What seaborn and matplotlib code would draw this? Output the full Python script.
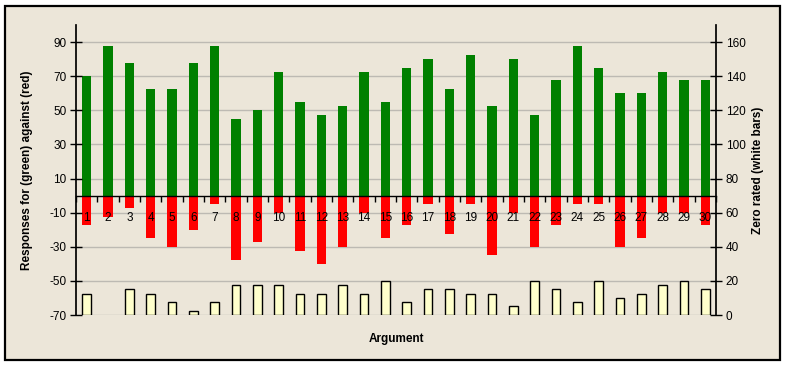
import numpy as np
import pandas as pd
import matplotlib
matplotlib.use("Agg")
import matplotlib.pyplot as plt
import seaborn as sns

# ---- data ----
arguments = [str(i) for i in range(1, 31)]
responses_for = [70, 87.5, 77.5, 62.5, 62.5, 77.5, 87.5, 45, 50, 72.5,
                 55, 47.5, 52.5, 72.5, 55, 75, 80, 62.5, 82.5, 52.5,
                 80, 47.5, 67.5, 87.5, 75, 60, 60, 72.5, 67.5, 67.5]
responses_against = [-17.5, -12.5, -7.5, -25, -30, -20, -5, -37.5, -27.5, -10,
                     -32.5, -40, -30, -10, -25, -17.5, -5, -22.5, -5, -35,
                     -10, -30, -17.5, -5, -5, -30, -25, -10, -10, -17.5]
zero_rated = [12.5, 0, 15, 12.5, 7.5, 2.5, 7.5, 17.5, 17.5, 17.5,
              12.5, 12.5, 17.5, 12.5, 20, 7.5, 15, 15, 12.5, 12.5,
              5, 20, 15, 7.5, 20, 10, 12.5, 17.5, 20, 15]
left_ticks = [90, 70, 50, 30, 10, -10, -30, -50, -70]
right_ticks = [0, 20, 40, 60, 80, 100, 120, 140, 160]

df = pd.DataFrame({"Argument": arguments, "for": responses_for,
                   "against": responses_against, "zero": zero_rated})

sns.set_theme(style="white")
plt.rcParams["font.family"] = ["Liberation Sans", "DejaVu Sans"]

BG = "#ECE6D9"
fig = plt.figure(figsize=(7.87, 3.66), dpi=100, facecolor="white")
# outer bordered panel
panel = plt.Rectangle((5 / 787, 6 / 366), 775 / 787, 354 / 366, transform=fig.transFigure,
                      facecolor=BG, edgecolor="black", linewidth=1.6, zorder=-10)
fig.patches.append(panel)

ax = fig.add_axes([76 / 787, 1 - 315 / 366, 640 / 787, 290 / 366])
ax.set_facecolor("none")
ax2 = ax.twinx()

# white bars on right axis
sns.barplot(data=df, x="Argument", y="zero", ax=ax2, color="#FFFFCC",
            edgecolor="black", linewidth=1.0, width=0.42, saturation=1,
            errorbar=None)
for p in ax2.patches:
    if p.get_height() == 0:
        p.set_linewidth(0)
# green and red bars on left axis
sns.barplot(data=df, x="Argument", y="for", ax=ax, color="#008000",
            width=0.45, saturation=1, errorbar=None, linewidth=0)
sns.barplot(data=df, x="Argument", y="against", ax=ax, color="#FF0000",
            width=0.45, saturation=1, errorbar=None, linewidth=0)

n = len(arguments)
ax.set_xlim(-0.5, n - 0.5)
ax.set_ylim(-70, 100)
ax2.set_ylim(0, 170)
ax.set_axisbelow(False)

# grid lines
for v in left_ticks:
    ax.axhline(v, color="#BDBAB3", linewidth=1.0, zorder=0.5)

# x axis at zero
ax.spines["bottom"].set_position(("data", 0))
ax.spines["bottom"].set_color("black")
ax.spines["bottom"].set_linewidth(1.0)
ax.spines["bottom"].set_zorder(3)
ax.set_xticks(np.arange(-0.5, n, 1.0))
ax.set_xticklabels([""] * (n + 1))
ax.tick_params(axis="x", which="major", direction="out", length=4, width=1, color="black",
               bottom=True)
ax.set_xticks(np.arange(n), minor=True)
ax.set_xticklabels(arguments, minor=True)
ax.tick_params(axis="x", which="minor", length=0, pad=12, labelsize=8.5, labelcolor="black")

ax.set_yticks(left_ticks)
ax.set_yticklabels([str(v) for v in left_ticks])
ax.tick_params(axis="y", direction="inout", length=8, width=1, color="black",
               left=True, labelsize=8.5, labelcolor="black", pad=3)
ax2.set_yticks(right_ticks)
ax2.set_yticklabels([str(v) for v in right_ticks])
ax2.tick_params(axis="y", direction="inout", length=8, width=1, color="black",
                right=True, labelsize=8.5, labelcolor="black", pad=3)

for a in (ax, ax2):
    a.spines["top"].set_visible(False)
ax.spines["right"].set_visible(False)
ax2.spines["bottom"].set_visible(False)
ax2.spines["left"].set_visible(False)
ax.spines["left"].set_color("black")
ax2.spines["right"].set_color("black")

ax.set_xlabel("")
ax.set_ylabel("")
ax2.set_ylabel("")
fig.text(396 / 787, 1 - 339 / 366, "Argument", ha="center", va="center",
         fontsize=8.5, fontweight="bold", color="black")
fig.text(27 / 787, 1 - 170 / 366, "Responses for (green) against (red)", ha="center",
         va="center", rotation=90, fontsize=8.5, fontweight="bold", color="black")
fig.text(758 / 787, 1 - 170 / 366, "Zero rated (white bars)", ha="center",
         va="center", rotation=90, fontsize=8.5, fontweight="bold", color="black")

fig.savefig("out.png", dpi=100, facecolor="white")
